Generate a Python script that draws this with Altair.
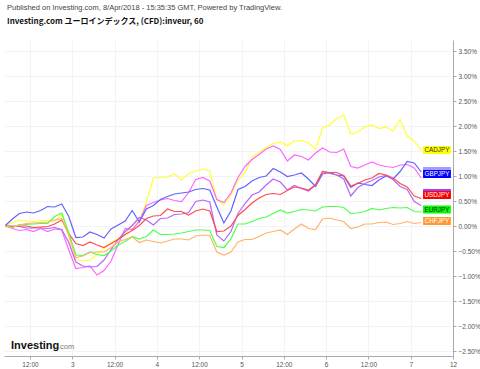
import altair as alt
import pandas as pd

# hours since 2 Apr 00:00
hours = [5, 7, 9, 11, 13, 15, 17, 19, 21, 23, 25, 27, 29, 31, 33, 35, 37, 39, 41, 43,
         45, 47, 49, 51, 53, 55, 57, 59, 61, 63, 65, 67, 69, 71, 73, 75, 77, 79, 81, 83,
         85, 87, 89, 91, 93, 95, 97, 99, 101, 103, 105, 107, 109, 111, 113, 115, 117, 119, 121, 123]

cadjpy = [0.00, 0.07, 0.12, 0.10, 0.09, 0.11, 0.12, 0.10, 0.24, -0.17,
          -0.67, -0.70, -0.68, -0.57, -0.44, -0.33, -0.25, -0.17, 0.01, 0.12,
          0.47, 0.96, 0.97, 0.98, 1.04, 0.92, 1.05, 1.10, 1.14, 1.10,
          0.52, 0.42, 0.62, 0.91, 1.07, 1.37, 1.47, 1.58, 1.65, 1.68,
          1.61, 1.70, 1.71, 1.66, 1.54, 1.96, 2.02, 2.15, 2.22, 1.84,
          1.88, 1.98, 2.02, 1.95, 1.98, 1.90, 2.13, 1.80, 1.70, 1.51]
gbpjpy = [0.01, 0.14, 0.25, 0.28, 0.26, 0.31, 0.39, 0.38, 0.44, 0.19,
          -0.23, -0.22, -0.12, -0.17, -0.24, -0.06, 0.02, 0.10, 0.31, 0.08,
          0.34, 0.41, 0.53, 0.59, 0.64, 0.66, 0.68, 0.73, 0.75, 0.72,
          0.38, 0.06, 0.30, 0.73, 0.79, 0.90, 0.97, 1.00, 1.15, 1.08,
          0.99, 1.02, 1.06, 0.94, 0.79, 1.04, 1.07, 1.02, 1.00, 0.77,
          0.86, 0.83, 0.81, 0.92, 1.00, 0.94, 1.09, 1.29, 1.26, 1.08]
audjpy = [0.00, -0.05, -0.09, -0.07, -0.11, -0.05, -0.11, -0.06, -0.08, -0.48,
          -0.85, -0.83, -0.80, -0.98, -0.89, -0.70, -0.37, -0.05, -0.07, 0.09,
          0.41, 0.47, 0.52, 0.55, 0.51, 0.49, 0.67, 0.93, 0.97, 0.90,
          0.53, 0.47, 0.66, 0.97, 1.19, 1.33, 1.43, 1.54, 1.60, 1.53,
          1.30, 1.42, 1.39, 1.32, 1.46, 1.56, 1.48, 1.47, 1.54, 1.19,
          1.16, 1.22, 1.28, 1.22, 1.19, 1.17, 1.22, 1.23, 1.16, 0.96]
nzdjpy = [0.00, 0.00, -0.01, -0.04, -0.04, -0.04, -0.05, -0.03, -0.07, -0.33,
          -0.72, -0.80, -0.82, -0.81, -0.68, -0.47, -0.27, -0.11, 0.01, 0.17,
          0.12, 0.02, 0.15, 0.16, 0.23, 0.24, 0.27, 0.49, 0.52, 0.48,
          -0.18, -0.30, -0.11, 0.25, 0.45, 0.62, 0.68, 0.82, 0.94, 0.88,
          0.72, 0.81, 0.75, 0.70, 0.82, 1.09, 1.05, 1.02, 0.94, 0.60,
          0.77, 0.85, 0.91, 0.98, 1.01, 0.93, 0.79, 0.73, 0.49, 0.41]
usdjpy = [0.00, -0.01, 0.00, 0.00, -0.03, -0.02, -0.01, 0.04, 0.12, -0.15,
          -0.35, -0.39, -0.32, -0.38, -0.43, -0.35, -0.27, -0.17, -0.09, 0.01,
          0.15, 0.20, 0.21, 0.34, 0.29, 0.29, 0.22, 0.30, 0.34, 0.30,
          -0.11, -0.10, 0.00, 0.21, 0.33, 0.46, 0.56, 0.63, 0.65, 0.63,
          0.71, 0.78, 0.76, 0.72, 0.82, 1.09, 1.07, 1.07, 1.01, 0.80,
          0.85, 0.92, 0.96, 1.05, 1.02, 0.96, 0.85, 0.78, 0.60, 0.55]
eurjpy = [0.00, -0.03, 0.03, 0.03, 0.04, 0.05, 0.05, 0.19, 0.26, -0.14,
          -0.58, -0.59, -0.52, -0.57, -0.59, -0.50, -0.38, -0.31, -0.21, -0.26,
          -0.21, -0.08, -0.17, -0.17, -0.16, -0.14, -0.11, -0.08, -0.08, -0.09,
          -0.41, -0.43, -0.26, 0.04, 0.04, 0.09, 0.15, 0.18, 0.25, 0.32,
          0.26, 0.29, 0.33, 0.32, 0.30, 0.38, 0.39, 0.39, 0.37, 0.25,
          0.26, 0.29, 0.35, 0.32, 0.35, 0.37, 0.36, 0.37, 0.29, 0.28]
chfjpy = [-0.01, -0.03, 0.02, 0.05, 0.06, 0.07, 0.08, 0.12, 0.15, -0.19,
          -0.63, -0.60, -0.53, -0.52, -0.52, -0.43, -0.32, -0.27, -0.22, -0.33,
          -0.28, -0.31, -0.34, -0.30, -0.26, -0.26, -0.28, -0.20, -0.18, -0.19,
          -0.52, -0.58, -0.52, -0.32, -0.27, -0.27, -0.21, -0.14, -0.11, -0.08,
          -0.17, -0.06, 0.04, -0.05, -0.07, 0.14, 0.16, 0.12, 0.09, -0.05,
          -0.02, 0.04, 0.04, 0.07, 0.08, 0.03, 0.05, 0.09, 0.05, 0.07]

series_names = ["CADJPY", "AUDJPY", "GBPJPY", "NZDJPY", "USDJPY", "EURJPY", "CHFJPY"]
series_values = [cadjpy, audjpy, gbpjpy, nzdjpy, usdjpy, eurjpy, chfjpy]
series_colors = ["#ffff33", "#ff66ff", "#6262ff", "#b366ff", "#ff4d4d", "#4dff4d", "#ffb366"]

tick_hours = [12, 24, 36, 48, 60, 72, 84, 96, 108, 120, 132]
tick_labels = ["12:00", "3", "12:00", "4", "12:00", "5", "12:00", "6", "12:00", "7", "12"]
y_ticks = [-2.5, -2.0, -1.5, -1.0, -0.5, 0.0, 0.5, 1.0, 1.5, 2.0, 2.5, 3.0, 3.5]

label_names = ["CADJPY", "GBPJPY", "USDJPY", "EURJPY", "CHFJPY"]
label_levels = [1.52, 1.04, 0.62, 0.33, 0.10]
label_bg = ["#ffff00", "#0000ff", "#ff0000", "#00ff00", "#ff9933"]
label_fg = ["#333333", "#ffffff", "#ffffff", "#222222", "#ffffff"]
hidden_levels = [1.10, 0.66]
hidden_bg = ["#a899ff", "#a040ff"]

rows = []
for name, vals in zip(series_names, series_values):
    for h, v in zip(hours, vals):
        rows.append({"series": name, "t": h, "v": v})
df = pd.DataFrame(rows)

lab = pd.DataFrame({"name": label_names, "lv": label_levels, "bg": label_bg, "fg": label_fg})
lab["y1"] = lab["lv"] - 0.08
lab["y2"] = lab["lv"] + 0.08
lab["x1"] = 123.5
lab["x2"] = 131.4
lab["xc"] = 127.45
hid = pd.DataFrame({"lv": hidden_levels, "bg": hidden_bg})
hid["y1"] = hid["lv"] - 0.08
hid["y2"] = hid["lv"] + 0.08
hid["x1"] = 123.5
hid["x2"] = 131.4

expr = "''"
for h, l in reversed(list(zip(tick_hours, tick_labels))):
    expr = f"datum.value == {h} ? '{l}' : ({expr})"

FONT = "Liberation Sans"
xscale = alt.Scale(domain=[4.62, 132], nice=False, zero=False)
yscale = alt.Scale(domain=[-2.6, 3.72], nice=False, zero=False)

x_axis = alt.Axis(values=tick_hours, labelExpr=expr, grid=True, title=None,
                  labelFlush=False, labelOverlap=False)
y_axis = alt.Axis(orient="right", values=y_ticks, labelExpr="format(datum.value, '.2f') + '%'",
                  grid=True, title=None, labelOverlap=False)

lines = alt.Chart(df).mark_line(strokeWidth=1.2, clip=True).encode(
    x=alt.X("t:Q", scale=xscale, axis=x_axis),
    y=alt.Y("v:Q", scale=yscale, axis=y_axis),
    color=alt.Color("series:N", scale=alt.Scale(domain=series_names, range=series_colors), legend=None),
    order=alt.Order("t:Q"),
)

hid_rect = alt.Chart(hid).mark_rect().encode(
    x=alt.X("x1:Q", axis=x_axis), x2="x2:Q", y=alt.Y("y1:Q", axis=y_axis), y2="y2:Q",
    color=alt.Color("bg:N", scale=None),
)
lab_rect = alt.Chart(lab).mark_rect().encode(
    x=alt.X("x1:Q", axis=x_axis), x2="x2:Q", y=alt.Y("y1:Q", axis=y_axis), y2="y2:Q",
    color=alt.Color("bg:N", scale=None),
)
lab_text = alt.Chart(lab).mark_text(fontSize=6.3, font=FONT, baseline="middle", align="center").encode(
    x=alt.X("xc:Q", axis=x_axis), y=alt.Y("lv:Q", axis=y_axis), text="name:N",
    color=alt.Color("fg:N", scale=None),
)

one = pd.DataFrame({"a": [0]})
head1 = alt.Chart(one).mark_text(align="left", baseline="middle", fontSize=7.5, font=FONT,
                                 color="#444444").encode(
    x=alt.value(3), y=alt.value(-32),
    text=alt.value("Published on Investing.com, 8/Apr/2018 - 15:35:35 GMT, Powered by TradingView."))
head2 = alt.Chart(one).mark_text(align="left", baseline="middle", fontSize=8, font="Noto Sans CJK JP",
                                 fontWeight="bold", color="#111111").encode(
    x=alt.value(3), y=alt.value(-18),
    text=alt.value("Investing.com ユーロインデックス, (CFD):inveur, 60"))
logo1 = alt.Chart(one).mark_text(align="left", baseline="alphabetic", fontSize=11, font=FONT,
                                 fontWeight="bold", color="#111111").encode(
    x=alt.value(7), y=alt.value(309), text=alt.value("Investing"))
logo2 = alt.Chart(one).mark_text(align="left", baseline="alphabetic", fontSize=7.5, font=FONT,
                                 color="#777777").encode(
    x=alt.value(54), y=alt.value(309), text=alt.value(".com"))

chart = alt.layer(lines, hid_rect, lab_rect, lab_text, head1, head2, logo1, logo2).properties(
    width=449, height=316,
    autosize=alt.AutoSizeParams(type="none"),
    padding={"left": 4, "top": 40, "right": 27, "bottom": 13},
    background="#ffffff",
).configure_view(strokeOpacity=0).configure_axis(
    labelOverlap=False, gridColor="#f3f3f3", domainColor="#aaaaaa", tickColor="#aaaaaa",
    tickSize=3, labelFontSize=6.5, labelColor="#555555", labelFont=FONT, labelPadding=2,
)

chart.save("out.html", embed_options={"renderer": "svg", "actions": False})
